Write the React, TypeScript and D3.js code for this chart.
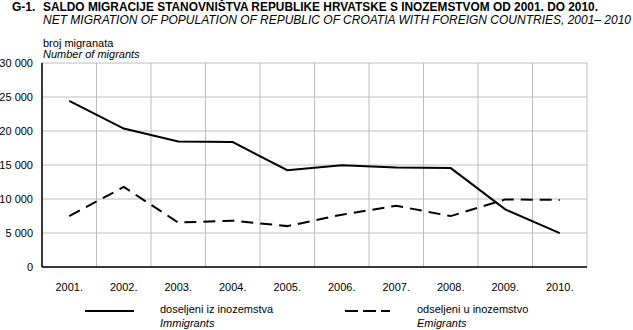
import React from "react";
import * as d3 from "d3";

const years = ["2001.", "2002.", "2003.", "2004.", "2005.", "2006.", "2007.", "2008.", "2009.", "2010."];
const immigrants = [24415, 20365, 18455, 18383, 14230, 14978, 14622, 14541, 8468, 4985];
const emigrants = [7488, 11767, 6534, 6812, 6012, 7692, 9002, 7488, 9940, 9860];
const yTicks = [0, 5000, 10000, 15000, 20000, 25000, 30000];

const W = 633, H = 330;
const L = 42, R = 587, T = 63, B = 267;
const FONT = "'Liberation Sans', Arial, sans-serif";

export default function App() {
  const x = d3.scaleBand<string>().domain(years).range([L, R]).padding(0);
  const y = d3.scaleLinear().domain([0, 30000]).range([B, T]);
  const cx = (i: number) => (x(years[i]) as number) + x.bandwidth() / 2;
  const line = d3.line<number>().x((_, i) => cx(i)).y((d) => y(d));
  const fmt = (v: number) => d3.format(",")(v).replace(/,/g, " ");
  const vLines = years.map((yr) => (x(yr) as number)).concat([R]);
  return (
    <svg width={W} height={H} style={{ position: "absolute", left: 0, top: 0, background: "#fff" }} fontFamily={FONT}>
      <rect width={W} height={H} fill="#fff" />
      <text x={12} y={11} fontSize={12} fontWeight="bold">G-1.</text>
      <text x={43} y={11} fontSize={12} fontWeight="bold" textLength={555} lengthAdjust="spacingAndGlyphs">SALDO MIGRACIJE STANOVNIŠTVA REPUBLIKE HRVATSKE S INOZEMSTVOM OD 2001. DO 2010.</text>
      <text x={43} y={24} fontSize={12} fontStyle="italic" textLength={588} lengthAdjust="spacingAndGlyphs">NET MIGRATION OF POPULATION OF REPUBLIC OF CROATIA  WITH FOREIGN COUNTRIES, 2001– 2010</text>
      <text x={43} y={47} fontSize={11}>broj migranata</text>
      <text x={43} y={58} fontSize={11} fontStyle="italic">Number of migrants</text>
      {yTicks.map((t) => (
        <g key={t}>
          <line x1={L} x2={R} y1={y(t)} y2={y(t)} stroke="#bdbdbd" strokeWidth={1} />
          <text x={33} y={y(t) + 4} fontSize={11} textAnchor="end">{fmt(t)}</text>
        </g>
      ))}
      {vLines.map((vx, i) => (
        <line key={i} x1={vx} x2={vx} y1={T} y2={B} stroke="#bdbdbd" strokeWidth={1} />
      ))}
      <line x1={L} x2={L} y1={T} y2={B} stroke="#000" strokeWidth={1.5} />
      <line x1={L} x2={R} y1={B} y2={B} stroke="#000" strokeWidth={1.5} />
      {years.map((yr, i) => (
        <text key={yr} x={cx(i)} y={291} fontSize={11} textAnchor="middle">{yr}</text>
      ))}
      <path d={line(immigrants) || ""} fill="none" stroke="#000" strokeWidth={2} />
      <path d={line(emigrants) || ""} fill="none" stroke="#000" strokeWidth={2} strokeDasharray="12,7" />
      <line x1={85} x2={134} y1={311} y2={311} stroke="#000" strokeWidth={2} />
      <text x={160} y={313} fontSize={11}>doseljeni iz inozemstva</text>
      <text x={160} y={327} fontSize={11} fontStyle="italic">Immigrants</text>
      <line x1={345} x2={390} y1={311} y2={311} stroke="#000" strokeWidth={2} strokeDasharray="13,5" />
      <text x={417} y={313} fontSize={11}>odseljeni u inozemstvo</text>
      <text x={417} y={327} fontSize={11} fontStyle="italic">Emigrants</text>
    </svg>
  );
}
